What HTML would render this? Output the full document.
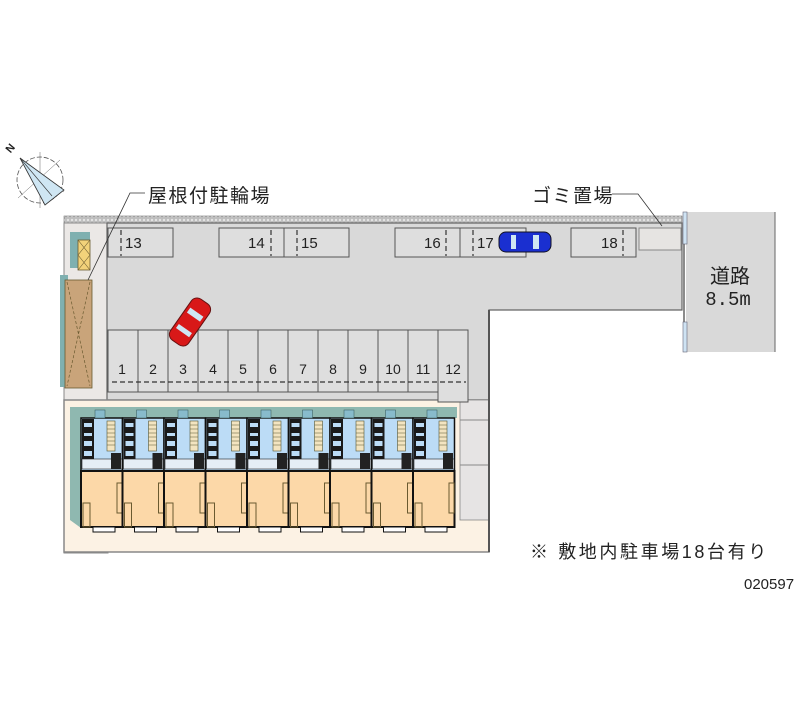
<!DOCTYPE html>
<html><head><meta charset="utf-8"><style>
html,body{margin:0;padding:0;background:#fff;}
svg{display:block;}
text{font-family:"Liberation Sans","Noto Sans CJK JP",sans-serif;fill:#222;}
</style></head><body>
<svg width="800" height="727" viewBox="0 0 800 727" xmlns="http://www.w3.org/2000/svg">
<defs>
<pattern id="hat" width="4" height="4" patternUnits="userSpaceOnUse">
<rect width="4" height="4" fill="#e4e4e4"/><circle cx="2" cy="2" r="1.2" fill="none" stroke="#888" stroke-width="0.6"/>
</pattern>
<g id="unit">
<rect x="0" y="11" width="41.5" height="53" fill="#bcdcf6" stroke="#111" stroke-width="1.5"/>
<rect x="0" y="64" width="41.5" height="56" fill="#fcd8a8" stroke="#111" stroke-width="2"/>
<rect x="1" y="12" width="12" height="40" fill="#1a1a1a"/>
<rect x="3" y="16" width="8" height="4" fill="#bcdcf6"/><rect x="3" y="26" width="8" height="3" fill="#bcdcf6"/>
<rect x="3" y="34" width="8" height="5" fill="#bcdcf6"/><rect x="3" y="44" width="8" height="5" fill="#bcdcf6"/>
<rect x="26" y="14" width="8" height="30" fill="#f3e4c0" stroke="#553" stroke-width="0.6"/>
<path d="M26 18h8M26 22h8M26 26h8M26 30h8M26 34h8M26 38h8" stroke="#553" stroke-width="0.5"/>
<rect x="1" y="52" width="40" height="10" fill="#e6eef6" stroke="#222" stroke-width="0.6"/>
<rect x="30" y="46" width="10" height="16" fill="#222"/>
<rect x="36" y="76" width="5" height="30" fill="none" stroke="#6a5a30" stroke-width="1"/>
<rect x="2" y="96" width="7" height="24" fill="none" stroke="#6a5a30" stroke-width="1"/>
<rect x="12" y="120" width="22" height="5" fill="#fff" stroke="#111" stroke-width="1"/>
<rect x="14" y="3" width="10" height="8" fill="#8bc" stroke="#355" stroke-width="0.5"/>
</g>
</defs>

<circle cx="40" cy="180" r="23" fill="none" stroke="#555" stroke-width="0.8" stroke-dasharray="5 2"/>
<path d="M20 158 L64 192 M60 160 L18 198 M40 152 L40 208" stroke="#666" stroke-width="0.5" fill="none"/>
<polygon points="20,158 64,190 45,205" fill="#cfe6f3" stroke="#333" stroke-width="0.8"/>
<line x1="20" y1="158" x2="52" y2="196" stroke="#333" stroke-width="0.6"/>
<text x="6" y="152" font-size="11" font-weight="bold" transform="rotate(-50 10 148)">N</text>

<rect x="64" y="216" width="618" height="7" fill="url(#hat)" stroke="#777" stroke-width="0.6"/>
<rect x="64" y="223" width="44" height="330" fill="#ebe8e6" stroke="#888"/>
<polygon points="107,223 682,223 682,310 489,310 489,400 107,400" fill="#d9d9d9" stroke="#666" stroke-width="1.2"/>
<rect x="64" y="400" width="425" height="152" fill="#fcf2e4" stroke="#888" stroke-width="1.5"/>
<rect x="460" y="400" width="29" height="120" fill="#e6e4e4" stroke="#888" stroke-width="0.8"/>
<line x1="460" y1="420" x2="489" y2="420" stroke="#888"/><line x1="460" y1="465" x2="489" y2="465" stroke="#888"/>
<line x1="489" y1="310" x2="489" y2="552" stroke="#555" stroke-width="2"/>

<rect x="686" y="212" width="89" height="140" fill="#d9d9d9"/>
<line x1="775" y1="212" x2="775" y2="352" stroke="#666"/>
<line x1="684" y1="212" x2="684" y2="352" stroke="#666" stroke-width="1.5"/>
<rect x="683" y="212" width="4" height="32" fill="#cfe3f3" stroke="#667" stroke-width="0.6"/>
<rect x="683" y="322" width="4" height="30" fill="#cfe3f3" stroke="#667" stroke-width="0.6"/>
<text x="730" y="283" font-size="20" text-anchor="middle">道路</text>
<text x="728" y="305" font-size="19" text-anchor="middle" style="font-family:'Liberation Mono',monospace">8.5m</text>

<g fill="#dedede" stroke="#555" stroke-width="1">
<rect x="108" y="228" width="65" height="29"/>
<rect x="219" y="228" width="65" height="29"/><rect x="284" y="228" width="65" height="29"/>
<rect x="395" y="228" width="65" height="29"/><rect x="460" y="228" width="66" height="29"/>
<rect x="571" y="228" width="65" height="29"/>
<rect x="639" y="228" width="42" height="22" fill="#e6e4e2" stroke="#888"/>
</g>
<g stroke="#333" stroke-width="1.2" stroke-dasharray="5 3">
<line x1="121" y1="230" x2="121" y2="256"/><line x1="271" y1="230" x2="271" y2="256"/>
<line x1="297" y1="230" x2="297" y2="256"/><line x1="446" y1="230" x2="446" y2="256"/>
<line x1="473" y1="230" x2="473" y2="256"/><line x1="623" y1="230" x2="623" y2="256"/>
</g>
<g font-size="15">
<text x="125" y="248">13</text><text x="248" y="248">14</text><text x="301" y="248">15</text>
<text x="424" y="248">16</text><text x="477" y="248">17</text><text x="601" y="248">18</text>
</g>

<g fill="#dedede" stroke="#555" stroke-width="1">
<rect x="108" y="330" width="30" height="62"/><rect x="138" y="330" width="30" height="62"/>
<rect x="168" y="330" width="30" height="62"/><rect x="198" y="330" width="30" height="62"/>
<rect x="228" y="330" width="30" height="62"/><rect x="258" y="330" width="30" height="62"/>
<rect x="288" y="330" width="30" height="62"/><rect x="318" y="330" width="30" height="62"/>
<rect x="348" y="330" width="30" height="62"/><rect x="378" y="330" width="30" height="62"/>
<rect x="408" y="330" width="30" height="62"/><rect x="438" y="330" width="30" height="72"/>
</g>
<g font-size="14" text-anchor="middle">
<text x="122" y="374">1</text><text x="153" y="374">2</text><text x="183" y="374">3</text>
<text x="213" y="374">4</text><text x="243" y="374">5</text><text x="273" y="374">6</text>
<text x="303" y="374">7</text><text x="333" y="374">8</text><text x="363" y="374">9</text>
<text x="393" y="374">10</text><text x="423" y="374">11</text><text x="453" y="374">12</text>
</g>
<line x1="112" y1="382" x2="466" y2="382" stroke="#333" stroke-width="1.2" stroke-dasharray="5 3"/>

<rect x="70" y="232" width="20" height="36" fill="#7fb0b0"/>
<rect x="78" y="240" width="12" height="30" fill="#f2d27a" stroke="#6a5a30" stroke-width="0.8"/>
<path d="M78 240L90 255M90 240L78 255M78 255L90 270M90 255L78 270" stroke="#6a5a30" stroke-width="0.6"/>
<rect x="60" y="275" width="8" height="112" fill="#7fb0b0"/>
<rect x="65" y="280" width="27" height="108" fill="#c9a47a" stroke="#6a5a30" stroke-width="0.8"/>
<path d="M67 282L90 386M90 282L67 386" stroke="#6a5a30" stroke-width="0.7" stroke-dasharray="3 2"/>

<polygon points="70,407 457,407 457,418 81,418 81,528 70,520" fill="#8fb8b0"/>
<g>
<use href="#unit" x="81" y="407"/><use href="#unit" x="122.5" y="407"/><use href="#unit" x="164" y="407"/>
<use href="#unit" x="205.5" y="407"/><use href="#unit" x="247" y="407"/><use href="#unit" x="288.5" y="407"/>
<use href="#unit" x="330" y="407"/><use href="#unit" x="371.5" y="407"/><use href="#unit" x="413" y="407"/>
</g>

<g transform="translate(190 322) rotate(35)">
<rect x="-11" y="-25" width="22" height="50" rx="7" fill="#d81818" stroke="#611" stroke-width="1"/>
<rect x="-8" y="-12" width="16" height="6" fill="#cfe6f3"/><rect x="-8" y="8" width="16" height="5" fill="#cfe6f3"/>
</g>
<g transform="translate(525 242) rotate(90)">
<rect x="-10" y="-26" width="20" height="52" rx="7" fill="#1a2fd0" stroke="#112" stroke-width="1"/>
<rect x="-7" y="-14" width="14" height="6" fill="#cfe6f3"/><rect x="-7" y="9" width="14" height="5" fill="#cfe6f3"/>
</g>

<polyline points="145,193 130,193 88,280" fill="none" stroke="#333" stroke-width="0.8"/>
<text x="148" y="202" font-size="19" letter-spacing="1.5">屋根付駐輪場</text>
<polyline points="612,194 638,194 662,226" fill="none" stroke="#333" stroke-width="0.8"/>
<text x="532" y="202" font-size="19" letter-spacing="1.5">ゴミ置場</text>

<text x="530" y="558" font-size="18" letter-spacing="2.6">※ 敷地内駐車場18台有り</text>
<text x="744" y="589" font-size="15">020597</text>
</svg>
</body></html>
